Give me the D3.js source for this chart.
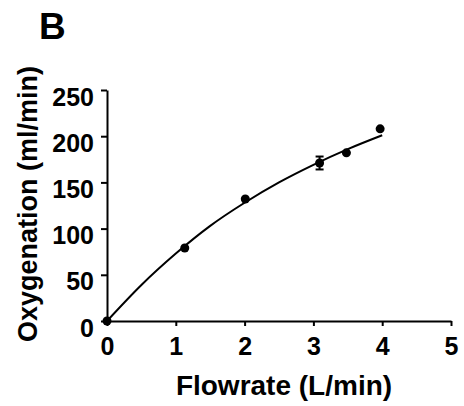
<!DOCTYPE html>
<html>
<head>
<meta charset="utf-8">
<script src="https://cdn.jsdelivr.net/npm/d3@7"></script>
<style>
  body { margin: 0; background: #fff; }
  text { font-family: "Liberation Sans", Arial, sans-serif; font-weight: bold; fill: #000; }
</style>
</head>
<body>
<svg id="chart"></svg>
<script>
// measured points
const flowrate = [0, 1.13, 2.01, 3.09, 3.48, 3.97];
const oxygenation = [0, 79, 132, 171, 182, 208];
const sem = [0, 0, 0, 7, 0, 0];

// fitted curve
const fitX = [0, 0.5, 1, 1.5, 2, 2.5, 3, 3.5, 4];
const fitY = [0, 39, 73, 103, 128, 150, 169, 186, 201];

const xTicks = [0, 1, 2, 3, 4, 5];
const yTicks = [0, 50, 100, 150, 200, 250];

const width = 464, height = 406;
const margin = {top: 90, right: 13, bottom: 85, left: 107};
const innerW = width - margin.left - margin.right;
const innerH = height - margin.top - margin.bottom;

const svg = d3.select('#chart')
    .attr('width', width)
    .attr('height', height);

const chart = svg.append('g')
    .attr('transform', `translate(${margin.left}, ${margin.top})`);

const xscale = d3.scaleLinear().domain([0, 5]).range([0, innerW]);
const yscale = d3.scaleLinear().domain([0, 250]).range([innerH, 0]);

// axes
const xaxis = d3.axisBottom(xscale)
    .tickValues(xTicks)
    .tickFormat(d3.format('d'))
    .tickSize(5)
    .tickSizeOuter(0)
    .tickPadding(10);
const xg = chart.append('g')
    .attr('transform', `translate(0, ${innerH})`)
    .call(xaxis);

const yaxis = d3.axisLeft(yscale)
    .tickValues(yTicks)
    .tickFormat(d3.format('d'))
    .tickSize(6)
    .tickSizeOuter(0)
    .tickPadding(7);
const yg = chart.append('g').call(yaxis);

[xg, yg].forEach(g => {
    g.select('.domain').attr('stroke', '#000').attr('stroke-width', 2);
    g.selectAll('.tick line').attr('stroke', '#000').attr('stroke-width', 2);
    g.selectAll('.tick text')
        .style('font-size', '25px')
        .style('font-family', '"Liberation Sans", Arial, sans-serif')
        .style('font-weight', 'bold')
        .attr('fill', '#000');
});
yg.selectAll('.tick text').attr('dy', '0.6em');
xg.selectAll('.tick text').attr('dy', '0.74em');

// fit line
const line = d3.line()
    .x(d => xscale(d[0]))
    .y(d => yscale(d[1]))
    .curve(d3.curveMonotoneX);
chart.append('path')
    .datum(fitX.map((x, i) => [x, fitY[i]]))
    .attr('d', line)
    .attr('fill', 'none')
    .attr('stroke', '#000')
    .attr('stroke-width', 2);

// error bars
const pts = flowrate.map((x, i) => ({x: x, y: oxygenation[i], e: sem[i]}));
const eb = chart.selectAll('.err')
    .data(pts.filter(d => d.e > 0))
    .enter().append('g').attr('class', 'err');
eb.append('line')
    .attr('x1', d => xscale(d.x)).attr('x2', d => xscale(d.x))
    .attr('y1', d => yscale(d.y - d.e)).attr('y2', d => yscale(d.y + d.e))
    .attr('stroke', '#000').attr('stroke-width', 2);
[-1, 1].forEach(s => {
    eb.append('line')
        .attr('x1', d => xscale(d.x) - 4).attr('x2', d => xscale(d.x) + 4)
        .attr('y1', d => yscale(d.y + s * d.e)).attr('y2', d => yscale(d.y + s * d.e))
        .attr('stroke', '#000').attr('stroke-width', 2);
});

// points
chart.selectAll('circle')
    .data(pts)
    .enter()
    .append('circle')
    .attr('cx', d => xscale(d.x))
    .attr('cy', d => yscale(d.y))
    .attr('r', 4.5)
    .attr('fill', '#000');

// labels
svg.append('text')
    .attr('x', 39)
    .attr('y', 39)
    .style('font-size', '37px')
    .text('B');

svg.append('text')
    .attr('x', 284)
    .attr('y', 395)
    .attr('text-anchor', 'middle')
    .style('font-size', '28px')
    .text('Flowrate (L/min)');

svg.append('text')
    .attr('transform', 'rotate(-90)')
    .attr('x', -204)
    .attr('y', 37)
    .attr('text-anchor', 'middle')
    .style('font-size', '27px')
    .text('Oxygenation (ml/min)');
</script>
</body>
</html>
